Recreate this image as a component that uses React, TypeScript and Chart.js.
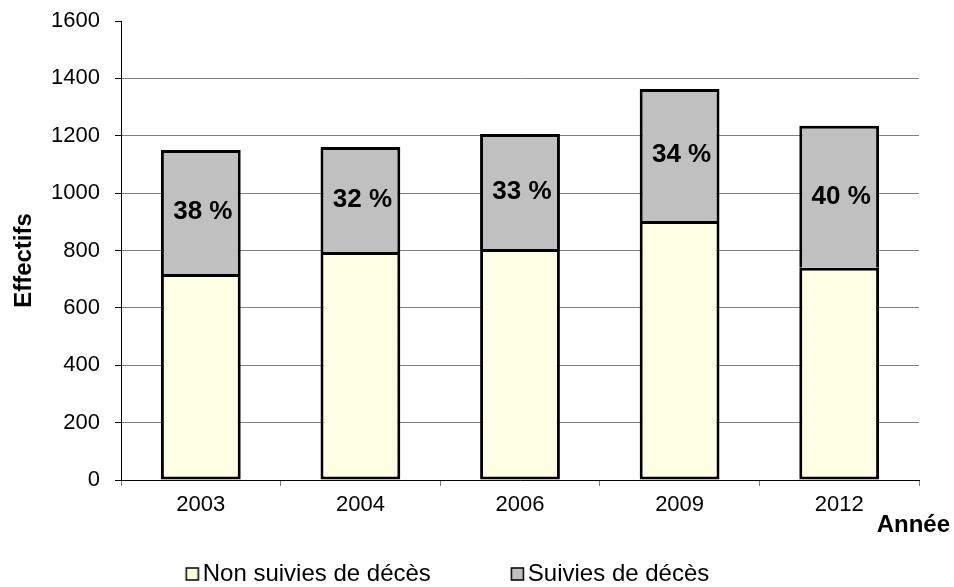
import React, { useEffect, useRef } from 'react';
import { Chart, registerables } from 'chart.js';

Chart.register(...registerables);

const years = ['2003', '2004', '2006', '2009', '2012'];
const nonSuivies = [718, 795, 805, 903, 740];
const suivies = [432, 366, 401, 460, 495];
const pctLabels = ['38 %', '32 %', '33 %', '34 %', '40 %'];
const seriesNames = ['Non suivies de décès', 'Suivies de décès'];
const yMin = 0;
const yMax = 1600;
const yStep = 200;
const yAxisTitle = 'Effectifs';
const xAxisTitle = 'Année';

const FONT = 'Arial, "Liberation Sans", Helvetica, sans-serif';
const SHIFT = 94; // canvas is shifted left by this many px
const CANVAS_W = 954 + SHIFT;
const CANVAS_H = 596;
const MARK_W = 75;

function makePattern(): CanvasPattern | string {
  const c = document.createElement('canvas');
  c.width = 4;
  c.height = 4;
  const g = c.getContext('2d');
  if (!g) return '#FFFFD8';
  g.fillStyle = '#FFFFF0';
  g.fillRect(0, 0, 4, 4);
  g.fillStyle = '#FFFF99';
  g.fillRect(0, 0, 1, 1);
  g.fillRect(2, 2, 1, 1);
  return g.createPattern(c, 'repeat') || '#FFFFD8';
}

function makeMarker(fill: any): HTMLCanvasElement {
  const w = MARK_W + 18;
  const c = document.createElement('canvas');
  c.width = w;
  c.height = 14;
  const g = c.getContext('2d');
  if (g) {
    g.fillStyle = fill;
    g.fillRect(w - 14, 0.5, 13, 13);
    g.strokeStyle = '#000';
    g.lineWidth = 1.5;
    g.strokeRect(w - 13.5, 1, 12, 12);
  }
  return c;
}

const labelPlugin = {
  id: 'customText',
  afterDatasetsDraw(chart: any) {
    const ctx = chart.ctx;
    const meta = chart.getDatasetMeta(1);
    ctx.save();
    ctx.fillStyle = '#000';
    ctx.font = `bold 26px ${FONT}`;
    ctx.textAlign = 'center';
    ctx.textBaseline = 'middle';
    meta.data.forEach((bar: any, i: number) => {
      const y = (bar.y + bar.base) / 2;
      ctx.fillText(pctLabels[i], bar.x + 2, y);
    });
    ctx.restore();
  },
  afterDraw(chart: any) {
    const ctx = chart.ctx;
    const area = chart.chartArea;
    ctx.save();
    ctx.fillStyle = '#000';
    ctx.font = `bold 24px ${FONT}`;
    ctx.textBaseline = 'middle';
    ctx.textAlign = 'right';
    ctx.fillText(xAxisTitle, area.right + 31, area.bottom + 45);
    ctx.translate(area.left - 97, (area.top + area.bottom) / 2 + 10);
    ctx.rotate(-Math.PI / 2);
    ctx.textAlign = 'center';
    ctx.fillText(yAxisTitle, 0, 0);
    ctx.restore();
  },
};

export default function App() {
  const ref = useRef<HTMLCanvasElement | null>(null);

  useEffect(() => {
    document.body.style.margin = '0';
    const canvas = ref.current;
    if (!canvas) return;
    const pattern = makePattern();
    const markers = [makeMarker('#FFFFE0'), makeMarker('#C0C0C0')];
    const chart = new Chart(canvas, {
      type: 'bar',
      data: {
        labels: years,
        datasets: [
          {
            label: seriesNames[0],
            data: nonSuivies,
            backgroundColor: pattern as any,
            borderColor: '#000',
            borderWidth: 3,
            borderSkipped: false,
          },
          {
            label: seriesNames[1],
            data: suivies,
            backgroundColor: '#C0C0C0',
            borderColor: '#000',
            borderWidth: 3,
            borderSkipped: 'bottom',
          },
        ],
      },
      options: {
        responsive: false,
        animation: false,
        devicePixelRatio: 1,
        layout: { padding: { left: 0, right: 35, top: 21, bottom: 0 } },
        datasets: { bar: { categoryPercentage: 1, barPercentage: 0.5 } },
        plugins: {
          tooltip: { enabled: false },
          legend: {
            position: 'bottom',
            labels: {
              color: '#000',
              font: { family: FONT, size: 24 },
              usePointStyle: true,
              pointStyleWidth: MARK_W,
              boxHeight: 14,
              padding: 10,
              generateLabels: (ch: any) =>
                ch.data.datasets.map((ds: any, i: number) => ({
                  text: ds.label,
                  pointStyle: markers[i],
                  fillStyle: i === 0 ? '#FFFFE0' : '#C0C0C0',
                  strokeStyle: '#000',
                  lineWidth: 1,
                  hidden: false,
                  datasetIndex: i,
                  fontColor: '#000',
                })),
            },
          },
        },
        scales: {
          x: {
            stacked: true,
            offset: true,
            grid: {
              offset: true,
              drawOnChartArea: false,
              drawTicks: true,
              tickLength: 6,
              tickColor: '#808080',
            },
            border: { color: '#000', width: 1 },
            ticks: {
              color: '#000',
              font: { family: FONT, size: 22 },
              padding: 6,
              maxRotation: 0,
              autoSkip: false,
            },
            afterFit: (s: any) => {
              s.height = 72;
            },
          },
          y: {
            stacked: true,
            min: yMin,
            max: yMax,
            ticks: {
              stepSize: yStep,
              color: '#000',
              font: { family: FONT, size: 22 },
              padding: 15,
              callback: (v: any) => String(v),
            },
            grid: {
              color: (c: any) => (c.tick && c.tick.value === yMax ? 'rgba(0,0,0,0)' : '#808080'),
              tickColor: '#000',
              tickLength: 6,
            },
            border: { color: '#000', width: 1 },
            afterFit: (s: any) => {
              s.width = 121 + SHIFT;
              s.paddingTop = 0;
              s.paddingBottom = 0;
            },
          },
        },
      },
      plugins: [labelPlugin],
    });
    return () => chart.destroy();
  }, []);

  return (
    <div style={{ position: 'absolute', left: 0, top: 0, width: 954, height: 587, overflow: 'hidden', background: '#fff' }}>
      <canvas
        ref={ref}
        width={CANVAS_W}
        height={CANVAS_H}
        style={{ position: 'absolute', left: -SHIFT, top: 0, width: CANVAS_W, height: CANVAS_H, display: 'block' }}
      />
    </div>
  );
}
